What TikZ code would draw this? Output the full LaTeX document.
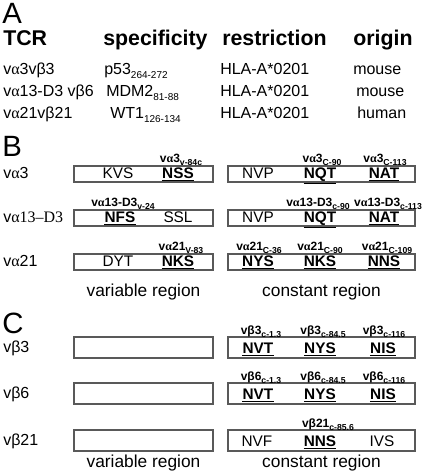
\documentclass[tikz,border=0pt]{standalone}
\usepackage{fontspec}
\setmainfont{Liberation Sans}
\newfontfamily\grkfont{Liberation Serif}
\newcommand{\galpha}{{\grkfont α}}
\newcommand{\gbeta}{β}
\newcommand{\lowsub}[1]{\raisebox{-0.45ex}{\fontsize{6.5}{7}\selectfont #1}}
\newcommand{\tabsub}[1]{\raisebox{-0.5ex}{\fontsize{7.5}{8}\selectfont #1}}

\begin{document}
\begin{tikzpicture}[x=0.75pt, y=-0.75pt,
  panel/.style={font=\fontsize{22}{25}\selectfont, inner sep=0pt, anchor=north west},
  head/.style={font=\fontsize{16}{18}\selectfont\bfseries, inner sep=0pt, anchor=base west},
  cell/.style={font=\fontsize{12}{14}\selectfont, inner sep=0pt, anchor=base west},
  seq/.style={font=\fontsize{11.5}{13}\selectfont, inner sep=0pt, anchor=base},
  hot/.style={font=\fontsize{11.5}{13}\selectfont\bfseries, inner sep=0pt, anchor=base},
  site/.style={font=\fontsize{9}{10}\selectfont\bfseries, inner sep=0pt, anchor=base},
  region/.style={font=\fontsize{13}{15}\selectfont, inner sep=0pt, anchor=base},
  chain/.style={draw=black!65, line width=0.9pt},
  uline/.style={line width=1pt}]
\useasboundingbox (0,0) rectangle (428,471);

% A: the three receptors
\node[panel] (pA) at (2,3) {A};
\node[head] (hTCR) at (3,45) {TCR};
\node[head] (hspec) at (103,45) {specificity};
\node[head] (hres) at (222,45) {restriction};
\node[head] (horig) at (353,45) {origin};

\node[cell] (tcr1) at (3,74) {v\galpha3v\gbeta3};
\node[cell] (spec1) at (104,74) {p53\tabsub{264-272}};
\node[cell] (res1) at (220,74) {HLA-A*0201};
\node[cell] (orig1) at (353,74) {mouse};
\node[cell] (tcr2) at (3,96) {v\galpha13-D3 v\gbeta6};
\node[cell] (spec2) at (106,96) {MDM2\tabsub{81-88}};
\node[cell] (res2) at (220,96) {HLA-A*0201};
\node[cell] (orig2) at (356,96) {mouse};
\node[cell] (tcr3) at (3,118) {v\galpha21v\gbeta21};
\node[cell] (spec3) at (110,118) {WT1\tabsub{126-134}};
\node[cell] (res3) at (220,118) {HLA-A*0201};
\node[cell] (orig3) at (357,118) {human};

% B: alpha chains
\node[panel] (pB) at (2,136) {B};
\node[cell] (la3) at (3,178) {v\galpha3};
\node[cell] (la13) at (3,222) {v{\grkfont α13–D3}};
\node[cell] (la21) at (3,266) {v\galpha21};
\foreach \t in {166,210,254}{
  \draw[chain] (74,\t) rectangle (213,\t+16);
  \draw[chain] (228,\t) rectangle (415,\t+16);
}
\node[seq] (kvs) at (118,178) {KVS};
\node[hot] (nss) at (178,178) {NSS};
\node[seq] (nvp1) at (258,178) {NVP};
\node[hot] (nqt1) at (320,178) {NQT};
\node[hot] (nat1) at (384,178) {NAT};
\node[site] (sa3v) at (181,162.5) {v\galpha3\lowsub{v-84c}};
\node[site] (sa3c1) at (322,162.5) {v\galpha3\lowsub{C-90}};
\node[site] (sa3c2) at (385,162.5) {v\galpha3\lowsub{C-113}};

\node[hot] (nfs) at (120,222) {NFS};
\node[seq] (ssl) at (178,222) {SSL};
\node[seq] (nvp2) at (258,222) {NVP};
\node[hot] (nqt2) at (320,222) {NQT};
\node[hot] (nat2) at (384,222) {NAT};
\node[site] (sa13v) at (123,206.5) {v\galpha13-D3\lowsub{v-24}};
\node[site] (sa13c1) at (318,206.5) {v\galpha13-D3\lowsub{c-90}};
\node[site] (sa13c2) at (388,206.5) {v\galpha13-D3\lowsub{c-113}};

\node[seq] (dyt) at (118,266) {DYT};
\node[hot] (nks1) at (178,266) {NKS};
\node[hot] (nys1) at (258,266) {NYS};
\node[hot] (nks2) at (320,266) {NKS};
\node[hot] (nns1) at (384,266) {NNS};
\node[site] (sa21v) at (181,250.5) {v\galpha21\lowsub{V-83}};
\node[site] (sa21c1) at (259,250.5) {v\galpha21\lowsub{C-36}};
\node[site] (sa21c2) at (320,250.5) {v\galpha21\lowsub{C-90}};
\node[site] (sa21c3) at (387,250.5) {v\galpha21\lowsub{C-109}};

\node[region] (varB) at (143.5,296) {variable region};
\node[region] (conB) at (321.5,296) {constant region};

% C: beta chains
\node[panel] (pC) at (2,313) {C};
\node[cell] (lb3) at (3,352) {v\gbeta3};
\node[cell] (lb6) at (3,398) {v\gbeta6};
\node[cell] (lb21) at (3,445) {v\gbeta21};
\foreach \t in {337,383,430}{
  \draw[chain] (74,\t) rectangle (213,\t+21);
  \draw[chain] (228,\t) rectangle (415,\t+21);
}
\node[hot] (nvt1) at (258,353) {NVT};
\node[hot] (nys3) at (320,353) {NYS};
\node[hot] (nis1) at (383,353) {NIS};
\node[site] (sb3a) at (261,334.5) {v\gbeta3\lowsub{c-1.3}};
\node[site] (sb3b) at (323,334.5) {v\gbeta3\lowsub{c-84.5}};
\node[site] (sb3c) at (384,334.5) {v\gbeta3\lowsub{c-116}};

\node[hot] (nvt2) at (258,399) {NVT};
\node[hot] (nys4) at (320,399) {NYS};
\node[hot] (nis2) at (383,399) {NIS};
\node[site] (sb6a) at (261,380.5) {v\gbeta6\lowsub{c-1.3}};
\node[site] (sb6b) at (323,380.5) {v\gbeta6\lowsub{c-84.5}};
\node[site] (sb6c) at (384,380.5) {v\gbeta6\lowsub{c-116}};

\node[seq] (nvf) at (257,446) {NVF};
\node[hot] (nns2) at (320,446) {NNS};
\node[seq] (ivs) at (382,446) {IVS};
\node[site] (sb21) at (328,427.5) {v\gbeta21\lowsub{c-85.6}};

\node[region] (varC) at (143.5,467) {variable region};
\node[region] (conC) at (321.5,467) {constant region};

% glycosylation sites underlined
\foreach \n in {nss,nqt1,nat1,nfs,nqt2,nat2,nks1,nys1,nks2,nns1,nvt1,nys3,nis1,nvt2,nys4,nis2,nns2}
  \draw[uline] ([yshift=-1.6pt]\n.south west) -- ([yshift=-1.6pt]\n.south east);
\end{tikzpicture}
\end{document}
